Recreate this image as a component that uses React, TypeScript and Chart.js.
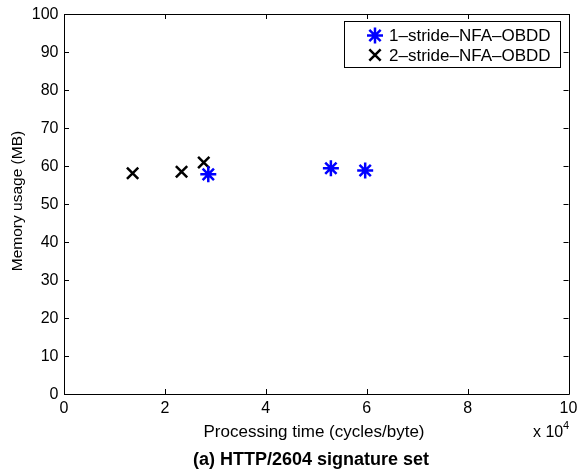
import React, { useEffect, useRef } from "react";
import { Chart, registerables } from "chart.js";

Chart.register(...registerables);

const xTicks = [0, 2, 4, 6, 8, 10];
const yTicks = [0, 10, 20, 30, 40, 50, 60, 70, 80, 90, 100];

const oneStrideLabel = "1\u2013stride\u2013NFA\u2013OBDD";
const oneStrideX = [2.86, 5.29, 5.97];
const oneStrideY = [57.8, 59.4, 58.8];

const twoStrideLabel = "2\u2013stride\u2013NFA\u2013OBDD";
const twoStrideX = [1.36, 2.33, 2.77];
const twoStrideY = [58.1, 58.5, 60.9];

const xTitle = "Processing time (cycles/byte)";
const yTitle = "Memory usage (MB)";
const caption = "(a) HTTP/2604 signature set";

const FONT = "'Liberation Sans', Arial, Helvetica, sans-serif";

function drawMarker(ctx: CanvasRenderingContext2D, style: string, r: number, x: number, y: number) {
  ctx.beginPath();
  const d = Math.cos(Math.PI / 4) * r;
  if (style === "star") {
    ctx.moveTo(x - r, y);
    ctx.lineTo(x + r, y);
    ctx.moveTo(x, y - r);
    ctx.lineTo(x, y + r);
  }
  ctx.moveTo(x - d, y - d);
  ctx.lineTo(x + d, y + d);
  ctx.moveTo(x - d, y + d);
  ctx.lineTo(x + d, y - d);
  ctx.stroke();
}

const axesPlugin = {
  id: "matlabAxes",
  afterDatasetsDraw(chart: any) {
    const { ctx, chartArea } = chart;
    const xs = chart.scales.x;
    const ys = chart.scales.y;
    const { left, right, top, bottom } = chartArea;
    ctx.save();
    ctx.strokeStyle = "#000";
    ctx.lineWidth = 1;
    ctx.beginPath();
    ctx.rect(Math.round(left) + 0.5, Math.round(top) + 0.5, Math.round(right - left), Math.round(bottom - top));
    ctx.stroke();
    const tl = 5;
    ctx.beginPath();
    xTicks.forEach((v) => {
      const px = Math.round(xs.getPixelForValue(v)) + 0.5;
      ctx.moveTo(px, bottom);
      ctx.lineTo(px, bottom - tl);
      ctx.moveTo(px, top);
      ctx.lineTo(px, top + tl);
    });
    yTicks.forEach((v) => {
      const py = Math.round(ys.getPixelForValue(v)) + 0.5;
      ctx.moveTo(left, py);
      ctx.lineTo(left + tl, py);
      ctx.moveTo(right, py);
      ctx.lineTo(right - tl, py);
    });
    ctx.stroke();

    ctx.fillStyle = "#000";
    ctx.font = `16px ${FONT}`;
    ctx.textAlign = "right";
    ctx.textBaseline = "middle";
    yTicks.forEach((v) => {
      ctx.fillText(String(v), left - 5.5, ys.getPixelForValue(v) + 1);
    });
    ctx.textAlign = "center";
    ctx.textBaseline = "top";
    xTicks.forEach((v) => {
      ctx.fillText(String(v), xs.getPixelForValue(v), bottom + 7);
    });

    // axis titles
    ctx.font = `17px ${FONT}`;
    ctx.textBaseline = "alphabetic";
    ctx.fillText(xTitle, 314, 437);
    ctx.save();
    ctx.font = `15.5px ${FONT}`;
    ctx.textBaseline = "middle";
    ctx.translate(18, 201);
    ctx.rotate(-Math.PI / 2);
    ctx.fillText(yTitle, 0, 0);
    ctx.restore();

    // exponent
    ctx.font = `16px ${FONT}`;
    ctx.textAlign = "left";
    ctx.textBaseline = "alphabetic";
    ctx.fillText("x 10", 533, 437);
    ctx.font = `11px ${FONT}`;
    ctx.fillText("4", 563, 429);

    // caption
    ctx.font = `bold 18px ${FONT}`;
    ctx.textAlign = "center";
    ctx.fillText(caption, 311, 465);

    // legend
    const bx = 344, by = 21, bw = 216, bh = 46;
    ctx.fillStyle = "#fff";
    ctx.fillRect(bx, by, bw, bh);
    ctx.strokeStyle = "#000";
    ctx.lineWidth = 1;
    ctx.strokeRect(bx + 0.5, by + 0.5, bw, bh);
    const ds = chart.data.datasets;
    const rows = [35.5, 55];
    ds.forEach((d: any, i: number) => {
      ctx.strokeStyle = d.borderColor;
      ctx.lineWidth = d.borderWidth;
      drawMarker(ctx, d.pointStyle, d.pointRadius, 375, rows[i]);
    });
    ctx.fillStyle = "#000";
    ctx.font = `17px ${FONT}`;
    ctx.textAlign = "left";
    ctx.textBaseline = "middle";
    ds.forEach((d: any, i: number) => {
      ctx.fillText(d.label, 389, rows[i] + 1);
    });
    ctx.restore();
  },
};

export default function App() {
  const ref = useRef<HTMLCanvasElement | null>(null);
  useEffect(() => {
    if (!ref.current) return;
    const chart = new Chart(ref.current, {
      type: "scatter",
      data: {
        datasets: [
          {
            label: oneStrideLabel,
            data: oneStrideX.map((x, i) => ({ x, y: oneStrideY[i] })),
            pointStyle: "star",
            pointRadius: 8,
            borderColor: "#0000ff",
            backgroundColor: "#0000ff",
            borderWidth: 2.5,
          },
          {
            label: twoStrideLabel,
            data: twoStrideX.map((x, i) => ({ x, y: twoStrideY[i] })),
            pointStyle: "crossRot",
            pointRadius: 8,
            borderColor: "#000000",
            backgroundColor: "#000000",
            borderWidth: 2.5,
          },
        ],
      },
      options: {
        responsive: false,
        animation: false,
        events: [],
        layout: { padding: { left: 64, right: 8, top: 14, bottom: 79 } },
        plugins: {
          legend: { display: false },
          tooltip: { enabled: false },
        },
        scales: {
          x: { type: "linear", min: 0, max: 10, display: false },
          y: { type: "linear", min: 0, max: 100, display: false },
        },
      } as any,
      plugins: [axesPlugin],
    });
    return () => chart.destroy();
  }, []);
  return (
    <div style={{ position: "fixed", left: 0, top: 0, width: 579, height: 473, background: "#fff" }}>
      <canvas ref={ref} width={579} height={473} style={{ width: 579, height: 473, display: "block" }} />
    </div>
  );
}
